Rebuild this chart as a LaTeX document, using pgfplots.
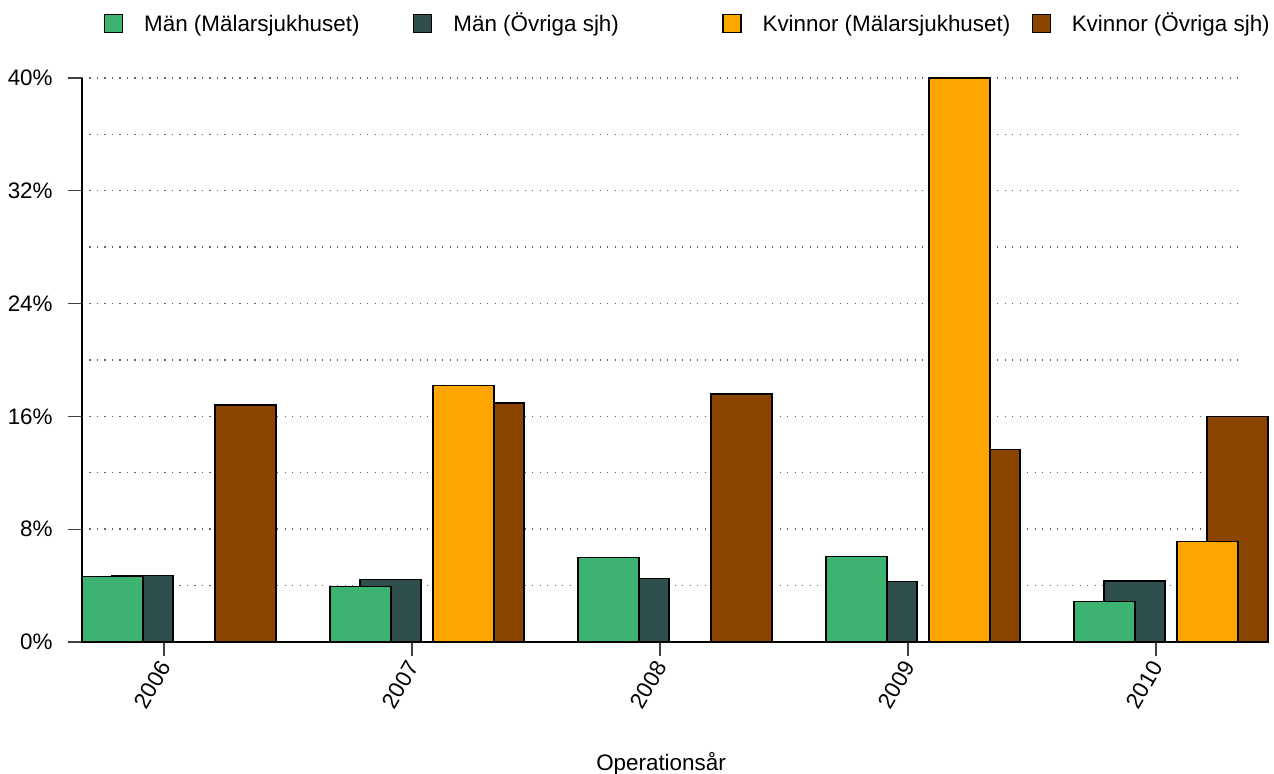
\documentclass[border=0pt]{standalone}
\usepackage{pgfplots}
\pgfplotsset{compat=1.18}
\usepackage{pgfplotstable}
\usepackage{fontspec}
\setmainfont{Liberation Sans}
\definecolor{mgreen}{HTML}{3CB371}
\definecolor{mdark}{HTML}{2F4F4F}
\definecolor{korange}{HTML}{FFA500}
\definecolor{kbrown}{HTML}{8B4500}

\pgfplotstableread{
x g d o b
0 4.65 4.70 0 16.81
1 3.95 4.42 18.18 16.95
2 5.98 4.52 0 17.59
3 6.08 4.28 40.0 13.67
4 2.89 4.33 7.14 16.0
}\datatable

\begin{document}
\begin{tikzpicture}[font=\fontsize{11.2}{13.4}\selectfont]
\path[use as bounding box] (-41pt,-66pt) rectangle (596pt,321pt);
\begin{axis}[
  at={(0,0)}, anchor=south west,
  scale only axis, width=579pt, height=282pt,
  xmin=-0.3306, xmax=4.3387, ymin=0, ymax=40,
  clip=false,
  axis lines=left,
  axis line style={-, black, line width=0.6pt},
  xtick={0,1,2,3,4},
  xticklabels={2006,2007,2008,2009,2010},
  ytick={0,8,16,24,32,40},
  minor ytick={4,12,20,28,36},
  yticklabel={\pgfmathprintnumber{\tick}\%},
  /pgf/number format/assume math mode=true,
  tick align=outside,
  major tick length=7pt,
  minor tick length=0pt,
  tick style={black!75, line width=0.6pt},
  ymajorgrids, yminorgrids,
  major grid style={black!60, line width=0.7pt, dash pattern=on 0.6pt off 3.15pt},
  minor grid style={black!60, line width=0.7pt, dash pattern=on 0.6pt off 3.15pt},
  yticklabel style={anchor=east, inner sep=0pt, xshift=-7.5pt},
  xticklabel style={yshift=-3.5pt, xshift=0.5pt, rotate=60, anchor=east, inner sep=0pt},
  xlabel={Operationsår},
  xlabel style={at={(axis description cs:0.5,-0.216)}, anchor=center},
  ybar, bar width=0.246, bar shift=0pt,
  every axis plot/.append style={draw=black, line width=0.6pt},
  legend columns=4,
  legend image code/.code={\draw[#1, line width=0.6pt] (0pt,-0.5pt) rectangle (9pt,8.5pt);},
  legend style={at={(axis description cs:0.019,1.0959)}, anchor=west, draw=none, fill=none,
    inner sep=0pt, outer sep=0pt, column sep=0pt, row sep=0pt,
    nodes={inner sep=0pt, outer sep=0pt, anchor=base west}},
]
\addlegendimage{fill=mgreen, draw=black}
\addlegendentry{\makebox[145pt][l]{\hspace*{10.5pt}Män (Mälarsjukhuset)}}
\addlegendimage{fill=mdark, draw=black}
\addlegendentry{\makebox[145pt][l]{\hspace*{10.5pt}Män (Övriga sjh)}}
\addlegendimage{fill=korange, draw=black}
\addlegendentry{\makebox[145pt][l]{\hspace*{10.5pt}Kvinnor (Mälarsjukhuset)}}
\addlegendimage{fill=kbrown, draw=black}
\addlegendentry{\hspace*{10.5pt}Kvinnor (Övriga sjh)}

\addplot[fill=mdark, forget plot] table[x expr=\thisrow{x}-0.0867, y=d] {\datatable};
\addplot[fill=mgreen, forget plot] table[x expr=\thisrow{x}-0.2077, y=g] {\datatable};
\addplot[fill=kbrown, forget plot] table[x expr=\thisrow{x}+0.3286, y=b] {\datatable};
\addplot[fill=korange, forget plot] table[x expr=\thisrow{x}+0.2077, y=o] {\datatable};
\draw[black, line width=0.6pt] (axis cs:4.3387,0) -- (axis cs:4.4508,0);
\end{axis}
\end{tikzpicture}
\end{document}
